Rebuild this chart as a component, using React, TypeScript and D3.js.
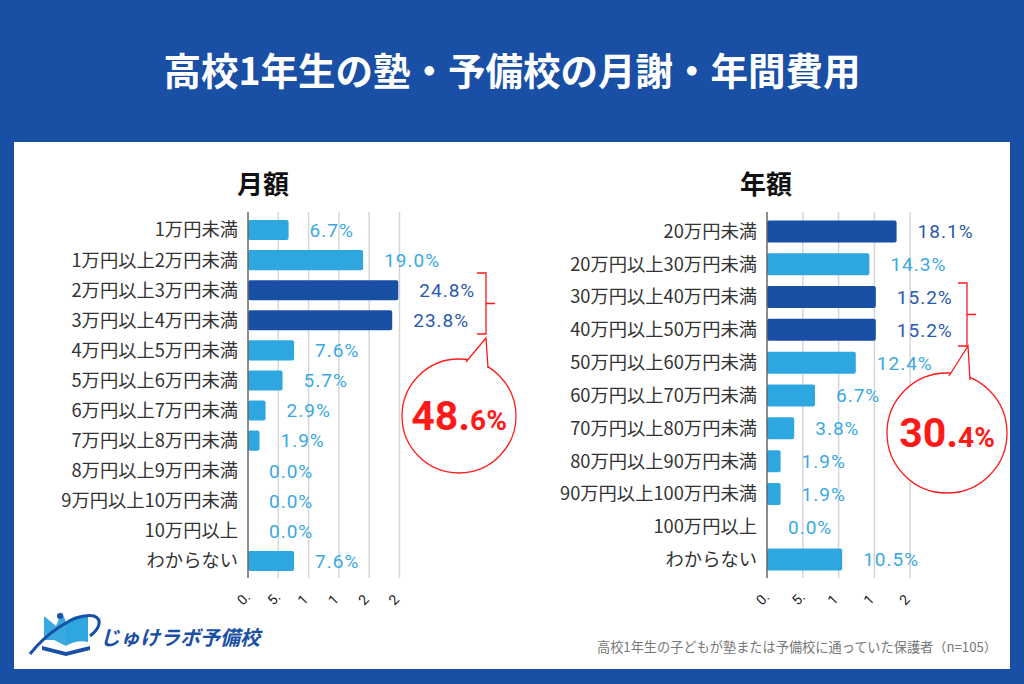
import React from 'react';
import * as d3 from 'd3';

const monthlyCats = ['1万円未満','1万円以上2万円未満','2万円以上3万円未満','3万円以上4万円未満','4万円以上5万円未満','5万円以上6万円未満','6万円以上7万円未満','7万円以上8万円未満','8万円以上9万円未満','9万円以上10万円未満','10万円以上','わからない'];
const monthlyVals = [6.7, 19.0, 24.8, 23.8, 7.6, 5.7, 2.9, 1.9, 0.0, 0.0, 0.0, 7.6];
const monthlyHigh = [2, 3];
const monthlyTicks = [0, 5, 10, 15, 20, 25];
const monthlyTickLabels = ['0.', '5.', '1', '1', '2', '2'];

const annualCats = ['20万円未満','20万円以上30万円未満','30万円以上40万円未満','40万円以上50万円未満','50万円以上60万円未満','60万円以上70万円未満','70万円以上80万円未満','80万円以上90万円未満','90万円以上100万円未満','100万円以上','わからない'];
const annualVals = [18.1, 14.3, 15.2, 15.2, 12.4, 6.7, 3.8, 1.9, 1.9, 0.0, 10.5];
const annualHigh = [0, 2, 3];
const annualTicks = [0, 5, 10, 15, 20];
const annualTickLabels = ['0.', '5.', '1', '1', '2'];

const LIGHT = '#2ea7e0';
const DARK = '#1a4fa6';
const BG = '#1a4fa6';
const RED = '#ff1a1a';
const JP = "'Noto Sans CJK JP', 'Noto Sans', sans-serif";
const NUM = "Roboto, 'Noto Sans CJK JP', sans-serif";

function Chart({ title, cats, vals, high, ticks, tickLabels, x0, pxPerPct, titleX }) {
  const x = d3.scaleLinear().domain([0, ticks[ticks.length - 1]]).range([x0, x0 + pxPerPct * ticks[ticks.length - 1]]);
  const y = d3.scaleBand().domain(cats).range([215, 576]).paddingInner(0.33).paddingOuter(0.165);
  const top = 212, bottom = 578;
  return (
    <g>
      <text x={titleX} y={194} textAnchor="middle" fontFamily={JP} fontWeight={700} fontSize={26} fill="#111">{title}</text>
      {ticks.map((t, i) => (
        <g key={i}>
          {i > 0 && <line x1={x(t)} x2={x(t)} y1={top} y2={bottom} stroke="#d6d6d6" strokeWidth={1.5} />}
          <text transform={`translate(${x(t) - 5},${606}) rotate(-45)`} textAnchor="start" fontFamily={NUM} fontSize={14} fill="#222">{tickLabels[i]}</text>
        </g>
      ))}
      {cats.map((c, i) => {
        const v = vals[i];
        const isHigh = high.includes(i);
        const yc = y(c) + y.bandwidth() / 2;
        return (
          <g key={c}>
            <text x={x0 - 10} y={yc} dy="0.35em" textAnchor="end" fontFamily={JP} fontSize={18.3} fill="#333">{c}</text>
            {v > 0 && <rect x={x(0)} y={y(c)} width={x(v) - x(0)} height={y.bandwidth()} rx={2} fill={isHigh ? DARK : LIGHT} />}
            <text x={x(v) + 21} y={yc} dy="0.36em" fontFamily={NUM} fontSize={19} letterSpacing={1} fill={isHigh ? '#2a5ab0' : '#3aa9e2'}>{v.toFixed(1) + '%'}</text>
          </g>
        );
      })}
      <line x1={x0} x2={x0} y1={top} y2={bottom} stroke="#666" strokeWidth={1.5} />
    </g>
  );
}

function Bubble({ bx, by1, by2, tickX, cx, cy, r, tail, big, small }) {
  const ym = (by1 + by2) / 2;
  const [l, t, rr] = tail;
  return (
    <g>
      <path d={`M${bx - 9},${by1} H${bx} V${by2} H${bx - 9} M${bx},${ym} H${tickX}`} fill="none" stroke={RED} strokeWidth={1.3} />
      <circle cx={cx} cy={cy} r={r} fill="#fff" stroke={RED} strokeWidth={1.3} />
      <path d={`M${l[0]},${l[1] + 6} L${l[0]},${l[1]} L${t[0]},${t[1]} L${rr[0]},${rr[1]} L${rr[0]},${rr[1] + 6} Z`} fill="#fff" stroke="none" />
      <path d={`M${l[0]},${l[1]} L${t[0]},${t[1]} L${rr[0]},${rr[1]}`} fill="none" stroke={RED} strokeWidth={1.3} />
      <text x={cx} y={cy + 14} textAnchor="middle" fontFamily={NUM} fontWeight={700} fill={RED}>
        <tspan fontSize={41}>{big}</tspan><tspan fontSize={28}>{small}</tspan>
      </text>
    </g>
  );
}

export default function App() {
  return (
    <svg width={1024} height={684} style={{ position: 'absolute', left: 0, top: 0 }}>
      <rect x={0} y={0} width={1024} height={684} fill={BG} />
      <text x={512} y={85} textAnchor="middle" fontFamily={JP} fontWeight={700} fontSize={37.5} fill="#fff">高校1年生の塾・予備校の月謝・年間費用</text>
      <rect x={14} y={142} width={996} height={527} fill="#fff" />
      <Chart title="月額" cats={monthlyCats} vals={monthlyVals} high={monthlyHigh} ticks={monthlyTicks} tickLabels={monthlyTickLabels} x0={248} pxPerPct={6.06} titleX={263} />
      <Chart title="年額" cats={annualCats} vals={annualVals} high={annualHigh} ticks={annualTicks} tickLabels={annualTickLabels} x0={767} pxPerPct={7.16} titleX={766} />
      <Bubble bx={486} by1={273} by2={334} tickX={495} cx={459} cy={416} r={57} tail={[[466, 362], [486, 338], [488, 368]]} big="48." small="6%" />
      <Bubble bx={967} by1={283} by2={346} tickX={976} cx={947} cy={433} r={60} tail={[[949, 376], [968, 346], [970, 380]]} big="30." small="4%" />
      {/* logo */}
      <g>
        <path d="M44,640 L44,616 L56,626 L62,612 L66,622 L66,646 L54,640 Z" fill="#3aa9e2" />
        <path d="M66,622 C72,616 80,614 88,616 L88,642 C80,640 72,642 66,646 Z" fill="#2ea7e0" />
        <path d="M42,646 L66,652 L90,646 L90,650 L66,656 L42,650 Z" fill="#1a4fa6" />
        <path d="M30,654 C44,636 74,612 94,616 C104,620 98,630 90,636" fill="none" stroke="#1a4fa6" strokeWidth={3} />
        <circle cx={60} cy={616} r={3} fill="#1a4fa6" />
        <text x={100} y={645} fontFamily={JP} fontWeight={700} fontStyle="italic" fontSize={20} fill="#1a4fa6">じゅけラボ予備校</text>
      </g>
      <text x={997} y={652} textAnchor="end" fontFamily={JP} fontSize={13.2} fill="#777">高校1年生の子どもが塾または予備校に通っていた保護者（n=105）</text>
    </svg>
  );
}
